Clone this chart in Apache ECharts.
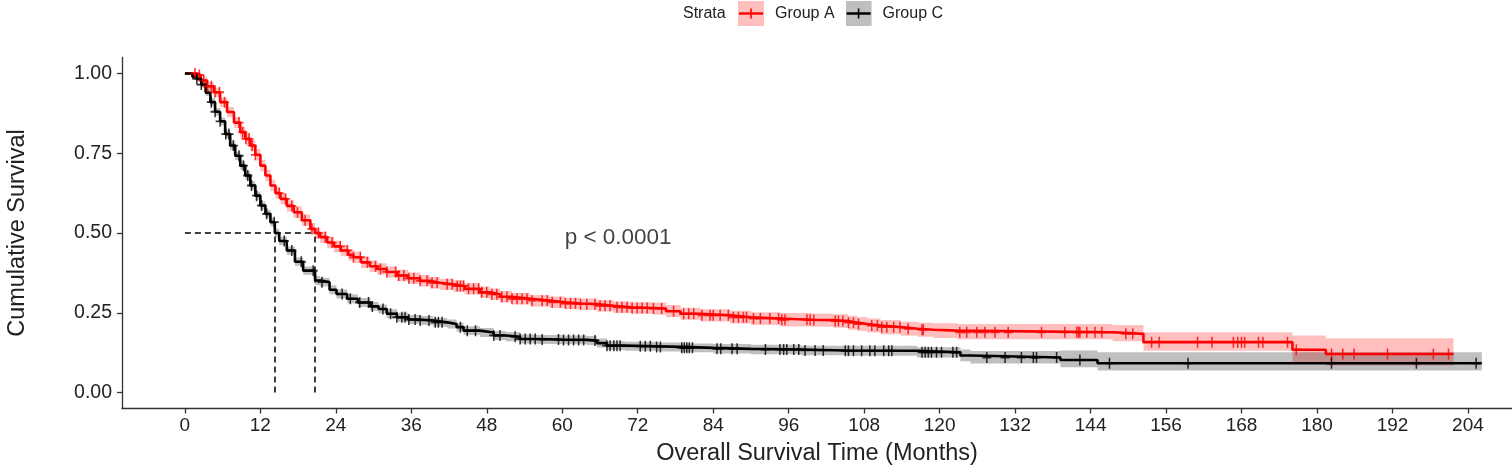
<!DOCTYPE html>
<html>
<head>
<meta charset="utf-8">
<script src="https://cdn.jsdelivr.net/npm/echarts@6.0.0/dist/echarts.min.js"></script>
<style>
  html, body { margin: 0; padding: 0; background: #fff; }
  #main { width: 1512px; height: 466px; }
</style>
</head>
<body>
<div id="main"></div>
<script>
// Group A (red) step curve: time, survival, lower / upper confidence
const timeA = [0, 1.8, 2.5, 3.5, 4.6, 5.6, 6.7, 7.8, 8.8, 9.6, 10.4, 11.2, 12.0, 12.8, 13.6, 14.4, 15.2, 16.2, 17.3, 18.6,
    19.95, 20.7, 21.5, 22.6, 23.7, 24.8, 26.0, 26.8, 28.0, 29.4, 30.6, 32.1, 33.7, 35.5, 37.4, 39.0, 40.5, 42.7, 44.5, 46.9,
    48.5, 50.1, 52.0, 54.9, 58.0, 60.5, 62.9, 65.5, 68.1, 71.0, 74.5, 76.5, 78.8, 82.0, 86.7, 90.0, 94.7, 99.5, 103.1, 105.5,
    106.9, 108.5, 110.6, 113.8, 116.5, 119.0, 122.8, 147.5, 152.4, 176.1, 181.4, 201.7];
const survA = [1.000, 0.995, 0.978, 0.960, 0.941, 0.910, 0.879, 0.846, 0.816, 0.795, 0.774, 0.745, 0.711, 0.680, 0.649, 0.625, 0.607, 0.585, 0.565, 0.540,
    0.513, 0.500, 0.487, 0.470, 0.458, 0.445, 0.432, 0.424, 0.408, 0.396, 0.387, 0.378, 0.367, 0.358, 0.350, 0.344, 0.339, 0.334, 0.325, 0.314,
    0.308, 0.300, 0.294, 0.288, 0.283, 0.279, 0.277, 0.272, 0.267, 0.265, 0.263, 0.255, 0.247, 0.242, 0.236, 0.232, 0.228, 0.227, 0.224, 0.219,
    0.215, 0.210, 0.205, 0.200, 0.197, 0.194, 0.189, 0.184, 0.158, 0.134, 0.121, 0.121];
const lowerA = [1.000, 0.986, 0.966, 0.947, 0.927, 0.895, 0.863, 0.829, 0.799, 0.777, 0.756, 0.727, 0.693, 0.662, 0.631, 0.607, 0.589, 0.567, 0.547, 0.522,
    0.495, 0.482, 0.469, 0.452, 0.440, 0.427, 0.414, 0.406, 0.390, 0.378, 0.369, 0.360, 0.349, 0.340, 0.332, 0.326, 0.321, 0.316, 0.307, 0.296,
    0.290, 0.282, 0.276, 0.270, 0.265, 0.261, 0.259, 0.254, 0.249, 0.247, 0.244, 0.236, 0.228, 0.223, 0.216, 0.212, 0.207, 0.206, 0.203, 0.197,
    0.193, 0.188, 0.183, 0.178, 0.175, 0.171, 0.167, 0.161, 0.131, 0.095, 0.085, 0.085];
const upperA = [1.000, 1.000, 0.990, 0.973, 0.955, 0.925, 0.895, 0.863, 0.833, 0.813, 0.792, 0.763, 0.729, 0.698, 0.667, 0.643, 0.625, 0.603, 0.583, 0.558,
    0.531, 0.518, 0.505, 0.488, 0.476, 0.463, 0.450, 0.442, 0.426, 0.414, 0.405, 0.396, 0.385, 0.376, 0.368, 0.362, 0.357, 0.352, 0.343, 0.332,
    0.326, 0.318, 0.312, 0.306, 0.301, 0.297, 0.295, 0.290, 0.285, 0.283, 0.282, 0.274, 0.266, 0.261, 0.256, 0.252, 0.249, 0.248, 0.245, 0.241,
    0.237, 0.232, 0.227, 0.222, 0.219, 0.217, 0.215, 0.212, 0.189, 0.179, 0.170, 0.170];

// Group C (black)
const timeC = [0, 1.2, 1.9, 2.6, 3.3, 4.05, 4.8, 5.6, 6.4, 7.2, 8.0, 8.8, 9.6, 10.4, 11.2, 12.0, 12.8, 13.6, 14.3, 15.0,
    16.2, 17.5, 18.8, 20.7, 21.5, 23.0, 24.1, 25.8, 27.5, 29.5, 30.8, 32.1, 33.7, 35.5, 37.4, 39.5, 41.7, 43.2, 44.3, 46.9,
    49.1, 51.0, 53.3, 56.0, 60.0, 63.9, 65.5, 67.1, 70.0, 75.0, 78.8, 84.0, 90.0, 97.9, 105.0, 116.4, 123.3, 124.9, 139.2, 145.1, 206.2];
const survC = [1.000, 0.990, 0.983, 0.965, 0.940, 0.910, 0.880, 0.850, 0.810, 0.774, 0.742, 0.711, 0.680, 0.649, 0.617, 0.586, 0.560, 0.534, 0.500, 0.475,
    0.445, 0.410, 0.382, 0.351, 0.346, 0.322, 0.309, 0.294, 0.282, 0.270, 0.262, 0.247, 0.236, 0.229, 0.226, 0.220, 0.215, 0.205, 0.194, 0.188,
    0.179, 0.175, 0.168, 0.166, 0.165, 0.163, 0.155, 0.147, 0.145, 0.143, 0.140, 0.137, 0.135, 0.132, 0.131, 0.126, 0.116, 0.110, 0.102, 0.092, 0.092];
const lowerC = [1.000, 0.982, 0.974, 0.955, 0.929, 0.898, 0.868, 0.838, 0.797, 0.761, 0.729, 0.698, 0.667, 0.636, 0.604, 0.573, 0.547, 0.521, 0.487, 0.462,
    0.432, 0.397, 0.369, 0.337, 0.332, 0.308, 0.295, 0.280, 0.268, 0.256, 0.248, 0.233, 0.222, 0.215, 0.212, 0.206, 0.201, 0.191, 0.180, 0.174,
    0.165, 0.161, 0.154, 0.152, 0.151, 0.149, 0.141, 0.133, 0.131, 0.129, 0.126, 0.122, 0.120, 0.117, 0.115, 0.110, 0.098, 0.091, 0.079, 0.069, 0.069];
const upperC = [1.000, 0.998, 0.992, 0.975, 0.951, 0.922, 0.892, 0.862, 0.823, 0.787, 0.755, 0.724, 0.693, 0.662, 0.630, 0.599, 0.573, 0.547, 0.513, 0.488,
    0.458, 0.423, 0.395, 0.365, 0.360, 0.336, 0.323, 0.308, 0.296, 0.284, 0.276, 0.261, 0.250, 0.243, 0.240, 0.234, 0.229, 0.219, 0.208, 0.202,
    0.193, 0.189, 0.182, 0.180, 0.179, 0.177, 0.169, 0.161, 0.159, 0.157, 0.154, 0.152, 0.150, 0.147, 0.147, 0.142, 0.135, 0.130, 0.132, 0.126, 0.126];

// censor times (months)
const censorA = [1.6, 2.3, 3.0, 3.6, 4.2, 4.8, 5.5, 6.3, 8.6, 9.2, 9.7, 10.2, 10.7, 11.2, 15.0, 16.0, 17.0, 17.9, 19.1, 20.2,
    21.2, 22.3, 23.4, 24.7, 25.8, 26.8, 27.9, 29.0, 30.3, 31.1, 32.1, 33.5, 34.0, 34.8, 35.6, 36.4, 37.4, 38.5, 39.3, 40.1,
    41.7, 42.5, 43.3, 43.8, 44.3, 45.1, 45.9, 46.7, 47.2, 48.0, 48.8, 49.6, 50.4, 51.2, 52.0, 52.8, 53.6, 54.4, 55.2, 56.8,
    57.6, 58.4, 59.7, 60.5, 61.3, 62.1, 62.9, 63.9, 65.2, 66.0, 66.8, 67.6, 68.7, 69.5, 70.3, 71.1, 71.9, 72.7, 73.5, 74.5,
    75.8, 77.7, 79.3, 80.1, 80.9, 82.2, 83.5, 84.0, 85.1, 86.4, 87.2, 88.0, 88.8, 89.3, 90.4, 91.5, 93.0, 94.4, 94.9, 95.4,
    98.9, 99.4, 100.0, 103.4, 103.9, 104.6, 105.5, 106.3, 107.1, 109.2, 110.1, 110.8, 111.6, 112.7, 113.7, 115.0, 117.2, 117.4,
    123.2, 124.3, 125.9, 127.2, 128.8, 130.9, 136.2, 139.9, 141.8, 142.1, 142.3, 143.4, 144.7, 145.8, 149.6, 150.7, 153.7, 154.9,
    161.0, 163.3, 166.7, 167.4, 168.0, 168.5, 170.7, 171.4, 175.3, 176.7, 182.3, 184.1, 185.9, 191.2, 198.5, 200.9];
const censorC = [1.9, 2.6, 4.2, 4.8, 5.6, 6.5, 7.0, 7.7, 8.6, 9.3, 10.0, 10.6, 11.4, 12.2, 13.0, 14.2, 15.8, 17.0, 18.5, 20.4,
    21.8, 25.0, 26.3, 27.8, 29.2, 29.8, 31.5, 32.7, 33.7, 34.5, 35.0, 35.6, 36.6, 37.4, 38.8, 39.8, 40.3, 40.9, 43.8, 44.9,
    46.2, 49.1, 50.1, 52.5, 53.3, 54.1, 54.9, 55.7, 56.8, 59.4, 60.2, 61.0, 61.8, 62.6, 63.4, 65.2, 67.1, 67.6, 68.2, 68.7,
    69.2, 72.4, 73.2, 74.0, 75.0, 75.6, 79.0, 79.4, 79.8, 80.2, 80.7, 84.6, 85.2, 87.0, 87.8, 92.3, 94.6, 95.2, 95.7, 96.8,
    97.6, 98.6, 100.2, 101.5, 105.0, 105.5, 106.3, 107.6, 108.9, 109.7, 111.1, 111.9, 112.4, 117.2, 117.7, 118.2, 118.7, 119.5,
    120.3, 122.1, 122.7, 127.5, 130.4, 133.0, 134.9, 135.4, 138.6, 142.3, 147.0, 159.5, 182.3, 195.8, 205.3];

const medians = [14.3, 20.7];
const xTicks = [0, 12, 24, 36, 48, 60, 72, 84, 96, 108, 120, 132, 144, 156, 168, 180, 192, 204];
const yTicks = [0, 0.25, 0.5, 0.75, 1];
const pValueText = 'p < 0.0001';
const pValueAt = [60.3, 0.485];

const FONT = '"Liberation Sans", Arial, sans-serif';

function pairs(xs, ys) {
    return xs.map((x, i) => [x, ys[i]]);
}

// value of the step curve at time t
function survivalAt(times, surv, t) {
    let s = surv[0];
    for (let i = 0; i < times.length; i++) {
        if (times[i] <= t) s = surv[i];
    }
    return s;
}

// confidence band as one stepped polygon, through the axis scales
function bandSeries(id, times, lower, upper, fill) {
    return {
        name: id,
        type: 'custom',
        silent: true,
        z: 1,
        data: [[times[0], lower[0]]],
        renderItem: function (params, api) {
            let top = [];
            let bottom = [];
            for (let i = 0; i < times.length; i++) {
                let next = i < times.length - 1 ? times[i + 1] : times[i];
                top.push(api.coord([times[i], upper[i]]), api.coord([next, upper[i]]));
                bottom.push(api.coord([times[i], lower[i]]), api.coord([next, lower[i]]));
            }
            return {
                type: 'polygon',
                shape: { points: top.concat(bottom.reverse()) },
                style: { fill: fill }
            };
        }
    };
}

function censorSeries(name, times, surv, censor, color) {
    return {
        name: name + '_censor',
        type: 'scatter',
        symbol: 'path://M0,0L0,10M-4,5L4,5',
        symbolSize: [9, 11],
        data: censor.map(t => [t, survivalAt(times, surv, t)]),
        itemStyle: { color: 'rgba(0,0,0,0)', borderColor: color, borderWidth: 1.7 },
        silent: true,
        z: 4
    };
}

function keyIcon(fill, stroke) {
    let svg = '<svg xmlns="http://www.w3.org/2000/svg" width="32" height="25">' +
        '<rect x="0" y="0" width="26" height="25" fill="' + fill + '"/>' +
        '<line x1="1" y1="12.5" x2="25" y2="12.5" stroke="' + stroke + '" stroke-width="2.4"/>' +
        '<line x1="13" y1="7.5" x2="13" y2="17.5" stroke="' + stroke + '" stroke-width="1.6"/></svg>';
    return 'image://data:image/svg+xml;charset=utf-8,' + encodeURIComponent(svg);
}

function getChart() {
    let chartDom = document.getElementById('main');
    let myChart = echarts.init(chartDom, null, { renderer: 'canvas' });

    let medianLines = [[{ coord: [0, 0.5] }, { coord: [Math.max(...medians), 0.5] }]];
    medians.forEach(m => medianLines.push([{ coord: [m, 0] }, { coord: [m, 0.5] }]));

    let option = {
        animation: false,
        textStyle: { fontFamily: FONT },
        title: {
            text: 'Strata',
            left: 683,
            top: 6,
            padding: 0,
            textStyle: { fontFamily: FONT, fontSize: 16, fontWeight: 'normal', color: '#222' }
        },
        legend: {
            left: 738,
            top: 1,
            padding: 0,
            itemWidth: 32,
            itemHeight: 25,
            itemGap: 11,
            textStyle: { fontFamily: FONT, fontSize: 16, color: '#222' },
            data: [
                { name: 'Group A', icon: keyIcon('#ffbfbf', '#ff0000') },
                { name: 'Group C', icon: keyIcon('#bfbfbf', '#000000') }
            ]
        },
        grid: { left: 122, right: 0, top: 57.5, bottom: 57.5, containLabel: false, outerBoundsMode: 'none' },
        xAxis: {
            type: 'value',
            min: -10,
            max: 211,
            name: 'Overall Survival Time (Months)',
            nameLocation: 'middle',
            nameGap: 33,
            nameTextStyle: { fontFamily: FONT, fontSize: 23.5, color: '#222' },
            axisLine: { onZero: false, lineStyle: { color: '#333', width: 1.3 } },
            axisTick: { customValues: xTicks, length: 5, lineStyle: { color: '#333', width: 1.3 } },
            axisLabel: { customValues: xTicks, fontSize: 19, color: '#222', margin: 8 },
            splitLine: { show: false }
        },
        yAxis: {
            type: 'value',
            min: -0.05,
            max: 1.05,
            name: 'Cumulative Survival',
            nameLocation: 'middle',
            nameGap: 92,
            nameTextStyle: { fontFamily: FONT, fontSize: 23.5, color: '#222' },
            axisLine: { onZero: false, lineStyle: { color: '#333', width: 1.3 } },
            axisTick: { customValues: yTicks, length: 5, lineStyle: { color: '#333', width: 1.3 } },
            axisLabel: { customValues: yTicks, fontSize: 19.5, color: '#222', margin: 10, formatter: v => v.toFixed(2) },
            splitLine: { show: false }
        },
        series: [
            bandSeries('bandA', timeA, lowerA, upperA, 'rgba(255,0,0,0.25)'),
            bandSeries('bandC', timeC, lowerC, upperC, 'rgba(0,0,0,0.25)'),
            {
                name: 'Group A',
                type: 'line',
                step: 'end',
                data: pairs(timeA, survA),
                showSymbol: false,
                color: '#ff0000',
                lineStyle: { color: '#ff0000', width: 2.6 },
                z: 3
            },
            {
                name: 'Group C',
                type: 'line',
                step: 'end',
                data: pairs(timeC, survC),
                showSymbol: false,
                color: '#000000',
                lineStyle: { color: '#000000', width: 2.6 },
                z: 3
            },
            censorSeries('A', timeA, survA, censorA, '#ff0000'),
            censorSeries('C', timeC, survC, censorC, '#000000'),
            {
                name: 'pvalue',
                type: 'scatter',
                symbolSize: 1,
                itemStyle: { color: 'rgba(0,0,0,0)' },
                data: [pValueAt],
                label: {
                    show: true,
                    position: 'right',
                    distance: 0,
                    formatter: pValueText,
                    fontFamily: FONT,
                    fontSize: 22.5,
                    color: '#111'
                },
                markLine: {
                    silent: true,
                    symbol: 'none',
                    label: { show: false },
                    lineStyle: { color: '#000', width: 1.5, type: [6, 4] },
                    data: medianLines
                },
                z: 5
            }
        ]
    };
    myChart.setOption(option);
}

window.addEventListener('load', getChart);
</script>
</body>
</html>
